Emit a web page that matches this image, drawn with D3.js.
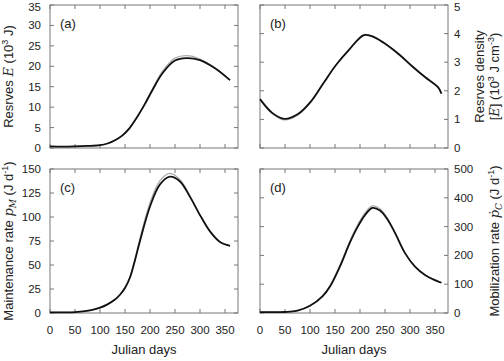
<!DOCTYPE html>
<html>
<head>
<meta charset="utf-8">
<script src="https://cdn.jsdelivr.net/npm/d3@7"></script>
<style>
    body { margin: 0; background: #fff; }
    svg { display: block; font-family: "Liberation Sans", Arial, sans-serif; }
    .tick-label { font-size: 11.5px; fill: #222; }
    .axis-title { font-size: 13px; fill: #222; }
    .sym { font-family: "DejaVu Serif", "Liberation Serif", serif; font-style: italic; }
</style>
</head>
<body>
<div id="chart"></div>
<script>
// Data
const xTicks = [0, 50, 100, 150, 200, 250, 300, 350];

const daysA = [0, 25, 50, 75, 100, 115, 130, 145, 160, 175, 190, 205, 225, 250, 273, 300, 330, 360];
const reservesE = [0.4, 0.35, 0.4, 0.5, 0.7, 1.1, 1.9, 3.1, 5.0, 7.7, 10.8, 14.2, 18.3, 21.4, 22.0, 21.5, 19.5, 16.6];
const reservesEGray = [0.4, 0.35, 0.4, 0.5, 0.7, 1.1, 1.9, 3.1, 5.0, 7.8, 11.0, 14.5, 18.8, 22.0, 22.6, 21.8, 19.6, 16.6];

const daysB = [0, 25, 49, 76, 102, 127, 152, 178, 208, 229, 254, 279, 305, 330, 356, 363];
const reservesDensity = [1.71, 1.22, 1.02, 1.19, 1.63, 2.27, 2.9, 3.43, 3.95, 3.87, 3.6, 3.26, 2.85, 2.48, 2.13, 1.9];
const reservesDensityGray = [1.71, 1.2, 0.98, 1.15, 1.6, 2.25, 2.9, 3.45, 3.97, 3.88, 3.6, 3.24, 2.83, 2.47, 2.13, 1.9];

const daysC = [0, 50, 80, 100, 115, 130, 140, 150, 160, 170, 180, 200, 220, 240, 260, 280, 300, 320, 340, 360];
const maintenance = [0.7, 1, 2.8, 5.5, 9, 14, 19, 26, 37, 55, 75, 111, 134, 142, 137, 121, 102, 85, 74, 70];
const maintenanceGray = [0.7, 1, 2.8, 5.5, 9, 14, 19.5, 27, 38, 57, 78, 115, 138, 145.5, 139, 122, 102, 85, 74, 70];

const daysD = [0, 50, 75, 100, 125, 140, 160, 180, 195, 210, 225, 240, 255, 270, 290, 310, 330, 350, 363];
const mobilization = [3, 3.5, 8, 25, 58, 92, 162, 245, 298, 340, 365, 356, 325, 278, 208, 161, 132, 114, 105];
const mobilizationGray = [3, 3.5, 8, 26, 60, 95, 167, 251, 305, 348, 372, 362, 329, 280, 209, 161, 132, 114, 105];

const panels = [
    { id: 'a', days: daysA, values: reservesE, gray: reservesEGray, yMax: 35, yTicks: [0, 5, 10, 15, 20, 25, 30, 35],
      box: { x0: 50, x1: 238, y0: 5, y1: 148 }, side: 'left', xLabels: false },
    { id: 'b', days: daysB, values: reservesDensity, gray: reservesDensityGray, yMax: 5, yTicks: [0, 1, 2, 3, 4, 5],
      box: { x0: 260, x1: 448, y0: 5, y1: 148 }, side: 'right', xLabels: false },
    { id: 'c', days: daysC, values: maintenance, gray: maintenanceGray, yMax: 150, yTicks: [0, 25, 50, 75, 100, 125, 150],
      box: { x0: 50, x1: 238, y0: 169, y1: 313 }, side: 'left', xLabels: true },
    { id: 'd', days: daysD, values: mobilization, gray: mobilizationGray, yMax: 500, yTicks: [0, 100, 200, 300, 400, 500],
      box: { x0: 260, x1: 448, y0: 169, y1: 313 }, side: 'right', xLabels: true }
];

const width = 504, height = 361;
const svg = d3.select('#chart').append('svg')
    .attr('width', width)
    .attr('height', height);

function drawPanel(p) {
    const b = p.box;
    const x = d3.scaleLinear().domain([0, 376]).range([b.x0, b.x1]);
    const y = d3.scaleLinear().domain([0, p.yMax]).range([b.y1, b.y0]);
    const g = svg.append('g');
    const tick = 4;

    // inward ticks on all four sides
    xTicks.forEach(t => {
        g.append('line').attr('x1', x(t)).attr('x2', x(t)).attr('y1', b.y1).attr('y2', b.y1 - tick)
            .attr('stroke', '#777');
        g.append('line').attr('x1', x(t)).attr('x2', x(t)).attr('y1', b.y0).attr('y2', b.y0 + tick)
            .attr('stroke', '#777');
        if (p.xLabels) {
            g.append('text').attr('class', 'tick-label')
                .attr('x', x(t)).attr('y', b.y1 + 21)
                .attr('text-anchor', 'middle').text(t);
        }
    });
    p.yTicks.forEach(t => {
        g.append('line').attr('x1', b.x0).attr('x2', b.x0 + tick).attr('y1', y(t)).attr('y2', y(t))
            .attr('stroke', '#777');
        g.append('line').attr('x1', b.x1).attr('x2', b.x1 - tick).attr('y1', y(t)).attr('y2', y(t))
            .attr('stroke', '#777');
        g.append('text').attr('class', 'tick-label')
            .attr('x', p.side === 'left' ? b.x0 - 9 : b.x1 + 6)
            .attr('y', Math.max(y(t) + 4, 11))
            .attr('text-anchor', p.side === 'left' ? 'end' : 'start')
            .text(t);
    });

    g.append('rect')
        .attr('x', b.x0).attr('y', b.y0)
        .attr('width', b.x1 - b.x0).attr('height', b.y1 - b.y0)
        .attr('fill', 'none').attr('stroke', '#777').attr('stroke-width', 1);

    const line = d3.line()
        .x((d, i) => x(p.days[i]))
        .y(d => y(d))
        .curve(d3.curveCatmullRom.alpha(0.5));

    g.append('path').attr('d', line(p.gray))
        .attr('fill', 'none').attr('stroke', '#aaa').attr('stroke-width', 1.2);
    g.append('path').attr('d', line(p.values))
        .attr('fill', 'none').attr('stroke', '#111').attr('stroke-width', 1.8);

    g.append('text').attr('class', 'axis-title')
        .attr('x', b.x0 + 10).attr('y', b.y0 + 23)
        .text(`(${p.id})`);

    if (p.xLabels) {
        g.append('text').attr('class', 'axis-title')
            .attr('x', (b.x0 + b.x1) / 2).attr('y', b.y1 + 41)
            .attr('text-anchor', 'middle')
            .text('Julian days');
    }
    return (b.y0 + b.y1) / 2;
}

const centers = panels.map(drawPanel);

// helper for rotated titles built from pieces
function rotatedTitle(cx, cy, parts) {
    const t = svg.append('text').attr('class', 'axis-title')
        .attr('transform', `translate(${cx},${cy}) rotate(-90)`)
        .attr('text-anchor', 'middle');
    parts.forEach(pt => {
        const s = t.append('tspan').text(pt.text);
        if (pt.sym) s.attr('class', 'sym');
        if (pt.sup) s.attr('font-size', '9px').attr('dy', -5);
        if (pt.sub) s.attr('font-size', '9px').attr('dy', 3);
        if (pt.back) s.attr('dy', pt.back);
    });
    return t;
}

rotatedTitle(13, centers[0], [
    { text: 'Resrves ' }, { text: 'E', sym: true }, { text: ' (10' },
    { text: '3', sup: true }, { text: ' J)', back: 5 }
]);
rotatedTitle(13, centers[2], [
    { text: 'Maintenance rate ' }, { text: 'p', sym: true }, { text: 'M', sym: true, sub: true },
    { text: ' (J d', back: -3 }, { text: '-1', sup: true }, { text: ')', back: 5 }
]);
rotatedTitle(484, centers[1], [{ text: 'Resrves density' }]);
rotatedTitle(499, centers[1], [
    { text: '[' }, { text: 'E', sym: true }, { text: '] (10' },
    { text: '3', sup: true }, { text: ' J cm', back: 5 }, { text: '-3', sup: true }, { text: ')', back: 5 }
]);
rotatedTitle(499, centers[3], [
    { text: 'Mobilization rate ' }, { text: 'ṗ', sym: true }, { text: 'C', sym: true, sub: true },
    { text: ' (J d', back: -3 }, { text: '-1', sup: true }, { text: ')', back: 5 }
]);
</script>
</body>
</html>
